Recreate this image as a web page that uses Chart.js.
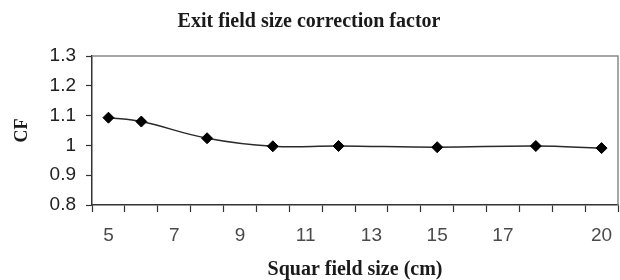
<!DOCTYPE html>
<html>
<head>
<meta charset="utf-8">
<script src="https://cdn.jsdelivr.net/npm/chart.js@4/dist/chart.umd.min.js"></script>
<style>
  html, body { margin: 0; padding: 0; background: #fff; }
  #wrap { width: 620px; height: 280px; }
</style>
</head>
<body>
<div id="wrap"><canvas id="c" width="620" height="280"></canvas></div>
<script>
// Categories on the x axis (square field size, cm)
const categories = [5, 6, 7, 8, 9, 10, 11, 12, 13, 14, 15, 16, 17, 18, 19, 20];
// Correction factor values (null = no measurement at that size)
const cfValues = [1.093, 1.080, null, 1.024, null, 0.997, null, 0.998, null, null, 0.994, null, null, 0.998, null, 0.991];
// Tick labels shown on the x axis
const shownXLabels = ['5', '7', '9', '11', '13', '15', '17', '20'];
// Y tick values
const yTicks = [0.8, 0.9, 1, 1.1, 1.2, 1.3];

const plotBorder = {
  id: 'plotBorder',
  beforeDatasetsDraw(chart) {
    const {ctx, chartArea: a} = chart;
    ctx.save();
    ctx.strokeStyle = '#8a8a8a';
    ctx.lineWidth = 1.5;
    ctx.beginPath();
    ctx.moveTo(a.left, a.top);
    ctx.lineTo(a.right, a.top);
    ctx.lineTo(a.right, a.bottom);
    ctx.stroke();
    ctx.restore();
  }
};

new Chart(document.getElementById('c'), {
  type: 'line',
  data: {
    labels: categories.map(String),
    datasets: [{
      data: cfValues,
      spanGaps: true,
      borderColor: '#2a2a2a',
      borderWidth: 1.5,
      tension: 0.4,
      pointStyle: 'rectRot',
      pointRadius: 5.5,
      pointBackgroundColor: '#000',
      pointBorderColor: '#000',
      pointBorderWidth: 1
    }]
  },
  options: {
    responsive: false,
    animation: false,
    layout: { autoPadding: false, padding: { left: 0, right: 2, top: 0, bottom: 0 } },
    plugins: {
      legend: { display: false },
      tooltip: { enabled: false },
      title: {
        display: true,
        text: 'Exit field size correction factor',
        color: '#1a1a1a',
        font: { family: 'Liberation Serif', weight: 'bold', size: 20 },
        padding: { top: 10, bottom: 22 }
      }
    },
    scales: {
      x: {
        type: 'category',
        offset: true,
        grid: {
          offset: true,
          drawOnChartArea: false,
          drawTicks: true,
          tickLength: 7,
          tickWidth: 1.2,
          tickColor: '#333'
        },
        border: { display: true, color: '#333', width: 1.5 },
        ticks: {
          autoSkip: false,
          maxRotation: 0,
          minRotation: 0,
          padding: 12,
          color: '#4a4a4a',
          font: { family: 'Liberation Sans', size: 19 },
          callback(value, index) {
            const lbl = String(categories[index]);
            return shownXLabels.includes(lbl) ? lbl : '';
          }
        },
        title: {
          display: true,
          text: 'Squar field size (cm)',
          color: '#1a1a1a',
          font: { family: 'Liberation Serif', weight: 'bold', size: 20, lineHeight: 1 },
          padding: { top: 0, bottom: 0 }
        },
        afterFit(scale) { scale.height = 75; scale.paddingLeft = 0; scale.paddingRight = 0; }
      },
      y: {
        min: 0.8,
        max: 1.3,
        afterBuildTicks(scale) { scale.ticks = yTicks.map(v => ({ value: v })); },
        grid: {
          drawOnChartArea: false,
          drawTicks: true,
          tickLength: 6,
          tickWidth: 1.2,
          tickColor: '#333'
        },
        border: { display: true, color: '#333', width: 1.5 },
        ticks: {
          padding: 10,
          color: '#222',
          font: { family: 'Liberation Sans', size: 19 },
          callback(v) { return String(Math.round(v * 10) / 10); }
        },
        title: {
          display: true,
          text: 'CF',
          color: '#1a1a1a',
          font: { family: 'Liberation Serif', weight: 'bold', size: 18, lineHeight: 1 },
          padding: { top: 13, bottom: 0 }
        },
        afterFit(scale) { scale.width = 92; }
      }
    }
  },
  plugins: [plotBorder]
});
</script>
</body>
</html>
